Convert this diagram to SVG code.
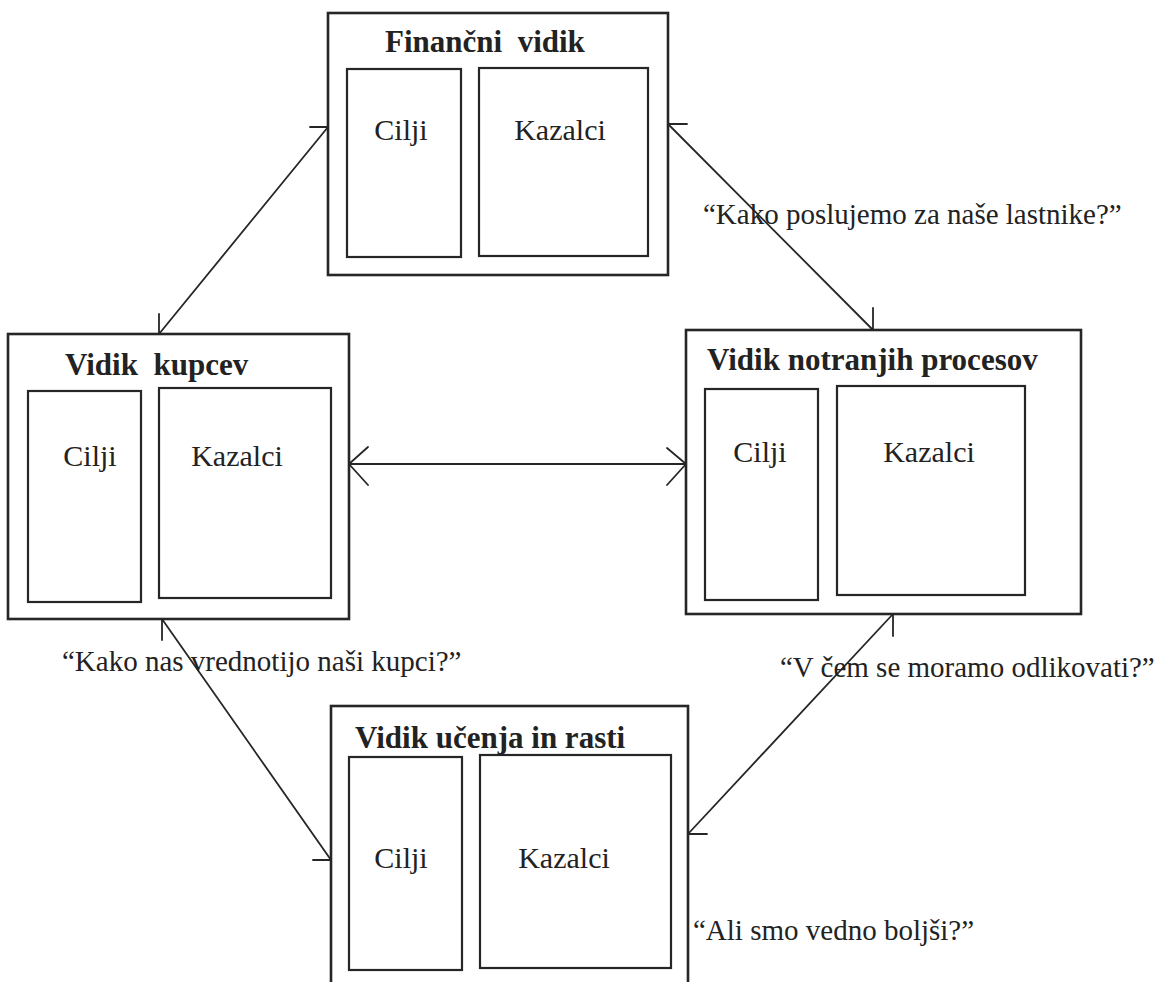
<svg xmlns="http://www.w3.org/2000/svg" width="1154" height="982" viewBox="0 0 1154 982">
<style>
.outer{fill:none;stroke:#262626;stroke-width:2.6}
.inner{fill:none;stroke:#262626;stroke-width:2.2}
.title{font-family:"Liberation Serif","Times New Roman",serif;font-weight:bold;font-size:31px;fill:#222;white-space:pre}
.lbl{font-family:"Liberation Serif","Times New Roman",serif;font-size:30px;fill:#222;text-anchor:middle}
.q{font-family:"Liberation Serif","Times New Roman",serif;font-size:29px;fill:#222}
.con{fill:none;stroke:#262626;stroke-width:1.8;stroke-linecap:round;stroke-linejoin:round}
</style>
<rect x="0" y="0" width="1154" height="982" fill="#ffffff"/>
<g id="financni">
<rect class="outer" x="328" y="13" width="340" height="262"/>
<rect class="inner" x="347" y="69" width="114" height="188"/>
<rect class="inner" x="479" y="68" width="169" height="188"/>
<text class="title" x="385" y="52" xml:space="preserve">Finančni  vidik</text>
<text class="lbl" x="401" y="140">Cilji</text>
<text class="lbl" x="560" y="140">Kazalci</text>
</g>
<g id="kupci">
<rect class="outer" x="8" y="334" width="341" height="285"/>
<rect class="inner" x="28" y="391" width="113" height="211"/>
<rect class="inner" x="159" y="388" width="172" height="210"/>
<text class="title" x="65" y="375" xml:space="preserve">Vidik  kupcev</text>
<text class="lbl" x="90" y="466">Cilji</text>
<text class="lbl" x="237" y="466">Kazalci</text>
</g>
<g id="notranji">
<rect class="outer" x="686" y="330" width="395" height="284"/>
<rect class="inner" x="705" y="389" width="113" height="211"/>
<rect class="inner" x="837" y="386" width="188" height="209"/>
<text class="title" x="707" y="370">Vidik notranjih procesov</text>
<text class="lbl" x="760" y="462">Cilji</text>
<text class="lbl" x="929" y="462">Kazalci</text>
</g>
<g id="ucenje">
<rect class="outer" x="331" y="706" width="357" height="290"/>
<rect class="inner" x="349" y="757" width="113" height="213"/>
<rect class="inner" x="480" y="755" width="191" height="213"/>
<text class="title" x="355" y="748">Vidik učenja in rasti</text>
<text class="lbl" x="401" y="868">Cilji</text>
<text class="lbl" x="564" y="868">Kazalci</text>
</g>
<g id="connectors">
<path class="con" d="M328,127 L159,334 M328,127 L310,127 M159,334 L159,314"/>
<path class="con" d="M668,124 L873,330 M668,124 L687,124 M873,330 L873,308"/>
<path class="con" d="M349,464 L686,464 M368,447 L349,464 L368,485 M667,448 L686,464 L667,485"/>
<path class="con" d="M162,619 L331,860 M162,619 L162,640 M331,860 L313,860"/>
<path class="con" d="M893,614 L688,834 M893,614 L893,636 M688,834 L707,834"/>
</g>
<g id="labels">
<text class="q" x="703" y="224">“Kako poslujemo za naše lastnike?”</text>
<text class="q" x="62" y="671">“Kako nas vrednotijo naši kupci?”</text>
<text class="q" x="780" y="677">“V čem se moramo odlikovati?”</text>
<text class="q" x="693" y="940">“Ali smo vedno boljši?”</text>
</g>
</svg>
